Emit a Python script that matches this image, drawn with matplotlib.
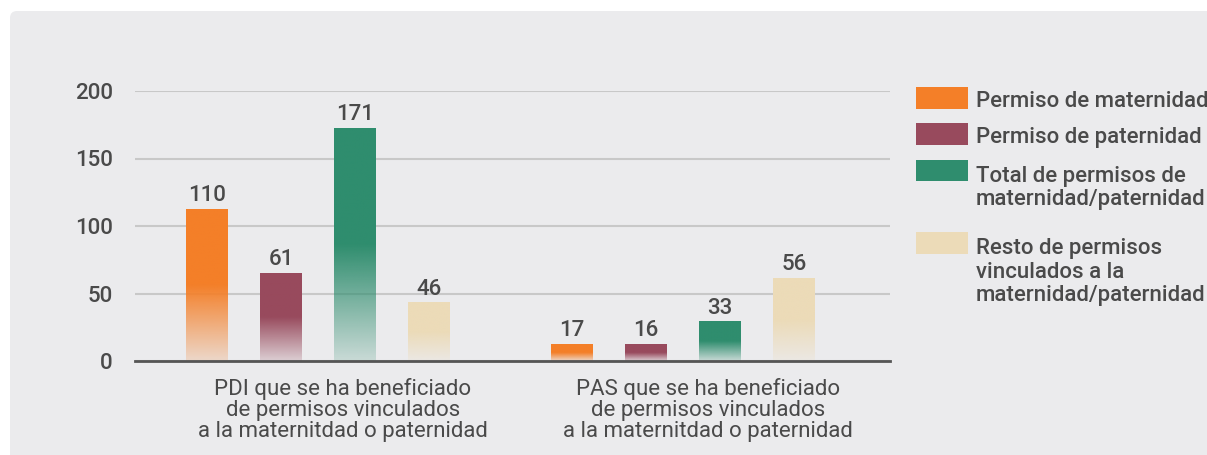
import numpy as np
import matplotlib
matplotlib.use("Agg")
import matplotlib.pyplot as plt
from matplotlib.patches import FancyBboxPatch, Rectangle
from matplotlib.colors import to_rgb
from matplotlib import font_manager

# ---------------- data ----------------
groups = [
    "PDI que se ha beneficiado\nde permisos vinculados\na la maternitdad o paternidad",
    "PAS que se ha beneficiado\nde permisos vinculados\na la maternitdad o paternidad",
]
series = [
    "Permiso de maternidad",
    "Permiso de paternidad",
    "Total de permisos de\nmaternidad/paternidad",
    "Resto de permisos\nvinculados a la\nmaternidad/paternidad",
]
# printed value labels
labels_pdi = [110, 61, 171, 46]
labels_pas = [17, 16, 33, 56]
# bar heights as drawn in the picture
heights_pdi = [112.5, 65, 172, 43]
heights_pas = [12.5, 12.5, 29, 61]
yticks = [0, 50, 100, 150, 200]

colors = ["#f47f28", "#984a5d", "#2f8d6e", "#ecdbb8"]
text_col = "#4a4a4a"

names = {f.name for f in font_manager.fontManager.ttflist}
main_font = "Roboto" if "Roboto" in names else "DejaVu Sans"
narrow_font = "Liberation Sans Narrow" if "Liberation Sans Narrow" in names else main_font
plt.rcParams["font.family"] = [main_font, "DejaVu Sans"]
WT = "medium"

W, H = 1207, 455
fig = plt.figure(figsize=(W / 100, H / 100), dpi=100)
fig.patch.set_facecolor("white")

# background panel & legend layer (pixel coordinates)
bg = fig.add_axes([0, 0, 1, 1])
bg.set_xlim(0, W)
bg.set_ylim(H, 0)
bg.axis("off")
bg.add_patch(FancyBboxPatch((10, 11), W + 40, H + 40,
                            boxstyle="round,pad=0,rounding_size=7",
                            fc="#ebebed", ec="none"))

# main axes
ax = fig.add_axes([135 / W, 1 - 361 / H, 755 / W, 270 / H])
ax.patch.set_alpha(0)

step = 0.2027
width = 0.115
values = [heights_pdi, heights_pas]
labels = [labels_pdi, labels_pas]
N = 256
frac = np.linspace(0, 1, N)
alpha = np.clip(0.18 + 0.82 * frac / 0.5, 0, 1)

for k in range(4):
    xs = np.arange(len(groups)) + (k - 1.5) * step
    hs = [values[g][k] for g in range(len(groups))]
    bars = ax.bar(xs, hs, width=width, color="none", edgecolor="none", zorder=3)
    rgb = to_rgb(colors[k])
    img = np.zeros((N, 1, 4))
    img[..., :3] = rgb
    img[..., 3] = alpha[:, None]
    for g, b in enumerate(bars):
        x0, y0 = b.get_x(), b.get_y()
        ax.imshow(img, extent=[x0, x0 + b.get_width(), y0, y0 + b.get_height()],
                  origin="lower", aspect="auto", interpolation="bilinear", zorder=3)
        ax.annotate(str(labels[g][k]), (x0 + b.get_width() / 2, b.get_height()),
                    xytext=(0, 6), textcoords="offset points", fontweight=WT,
                    ha="center", va="baseline", fontsize=16, color=text_col, zorder=4)

ax.set_xlim(-0.501, 1.567)
ax.set_ylim(0, 200)
ax.set_yticks(yticks)
ax.set_yticklabels([str(v) for v in yticks], fontsize=16, color=text_col, fontweight=WT)
ax.yaxis.grid(True, color="#c8c8c8", lw=1.5, zorder=0)
ax.set_axisbelow(True)
for s in ["top", "right", "left"]:
    ax.spines[s].set_visible(False)
ax.spines["bottom"].set_color("#555555")
ax.spines["bottom"].set_linewidth(2)
ax.spines["bottom"].set_zorder(5)
ax.tick_params(axis="both", length=0)
ax.tick_params(axis="y", pad=16)
ax.set_xticks(np.arange(len(groups)) + 0.068)
ax.set_xticklabels(groups, fontsize=16, color=text_col, family=[narrow_font, "DejaVu Sans"],
                   linespacing=1.0)
ax.tick_params(axis="x", pad=12)

# legend (manual)
patch_tops = [87.3, 123.3, 160, 232.3]
first_baselines = [107.3, 142.7, 181.7, 254.3]
for k, name in enumerate(series):
    bg.add_patch(Rectangle((916, patch_tops[k]), 52, 21.4, fc=colors[k], ec="none"))
    for j, line in enumerate(name.split("\n")):
        bg.text(976, first_baselines[k] + j * 23.5, line, fontsize=16, color=text_col,
                ha="left", va="baseline", fontweight=WT)

fig.savefig("out.png", dpi=100)
